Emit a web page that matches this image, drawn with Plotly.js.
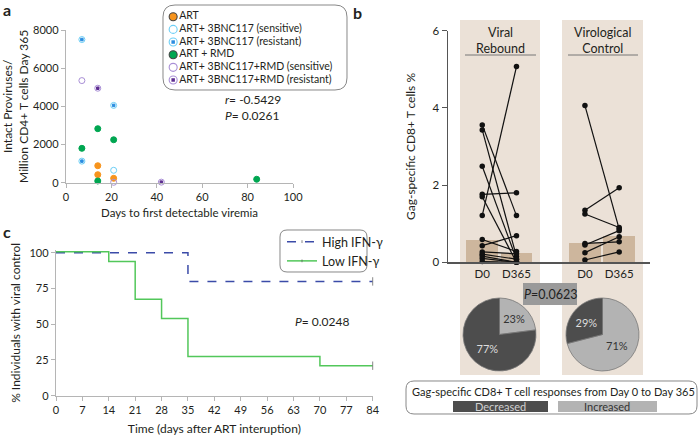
<!DOCTYPE html>
<html>
<head>
<meta charset="utf-8">
<script src="https://cdn.plot.ly/plotly-3.0.1.min.js"></script>
<style>
  html, body { margin: 0; padding: 0; background: #fff; }
  #chart { width: 699px; height: 436px; }
</style>
</head>
<body>
<div id="chart"></div>
<script>
// ---- panel a: intact proviruses vs days to viremia
var artX = [14, 14, 21];
var artY = [890, 420, 230];
var sensX = [21];
var sensY = [650];
var resX = [7, 7, 21];
var resY = [7500, 1130, 4050];
var rmdX = [7, 14, 14, 21, 84];
var rmdY = [1800, 2830, 90, 2250, 180];
var rmdSensX = [7, 21];
var rmdSensY = [5350, 20];
var rmdResX = [14, 42];
var rmdResY = [4950, 30];
var keyNames = ['ART', 'ART+ 3BNC117 (sensitive)', 'ART+ 3BNC117 (resistant)', 'ART + RMD',
                'ART+ 3BNC117+RMD (sensitive)', 'ART+ 3BNC117+RMD (resistant)'];

// ---- panel c: Kaplan-Meier style curves
var days = [0, 14, 21, 28, 35, 70, 84];
var highIfn = [100, 100, 100, 100, 80, 80, 80];
var lowIfn = [100.8, 94, 67.5, 54, 27.5, 21, 21];
var dayTicks = [0, 7, 14, 21, 28, 35, 42, 49, 56, 63, 70, 77, 84];

// ---- panel b: paired Gag-specific CD8+ responses
var rebD0   = [3.56, 3.43, 2.49, 1.76, 1.70, 1.21, 0.59, 0.43, 0.27, 0.21, 0.16, 0.10, 0.02];
var rebD365 = [1.21, 0.15, 0.08, 1.80, 0.00, 5.07, 0.28, 0.69, 0.22, 0.08, 0.00, 0.00, 0.00];
var ctlD0   = [4.06, 1.35, 1.25, 0.49, 0.45, 0.25, 0.06];
var ctlD365 = [0.86, 1.93, 0.90, 0.53, 0.82, 0.66, 0.27];
var medRebound = [0.58, 0.23];
var medControl = [0.51, 0.68];
var timeLabels = ['D0', 'D365', 'D0', 'D365'];
var pieRebound = [23, 77];   // increased, decreased
var pieControl = [71, 29];   // increased, decreased

var W = 699, H = 436;
function px(x) { return x / W; }
function py(y) { return 1 - y / H; }
function rrect(x0, y0, x1, y1, r) {
  function p(x, y) { return px(x).toFixed(5) + ',' + py(y).toFixed(5); }
  return 'M' + p(x0 + r, y0) + ' L' + p(x1 - r, y0) + ' Q' + p(x1, y0) + ' ' + p(x1, y0 + r) +
    ' L' + p(x1, y1 - r) + ' Q' + p(x1, y1) + ' ' + p(x1 - r, y1) +
    ' L' + p(x0 + r, y1) + ' Q' + p(x0, y1) + ' ' + p(x0, y1 - r) +
    ' L' + p(x0, y0 + r) + ' Q' + p(x0, y0) + ' ' + p(x0 + r, y0) + ' Z';
}
function note(text, x, y, size, color, xanchor) {
  return { text: text, x: px(x), y: py(y), xref: 'paper', yref: 'paper', showarrow: false,
    xanchor: xanchor || 'center', yanchor: 'middle', font: { size: size, color: color || '#231f20' } };
}

var orange = '#f7941d', ltBlue = '#6dcff6', blue = '#2b8de0', green = '#00a651';
var ltPurple = '#a98fd6', purple = '#5e2d91';
var dark = '#4d4d4d', light = '#b3b3b3', tan = '#cdb69d', beige = '#ebe1d7';

function pts(x, y, sym, col, size) {
  return { x: x, y: y, type: 'scatter', mode: 'markers', xaxis: 'x', yaxis: 'y',
    showlegend: false, hoverinfo: 'x+y', cliponaxis: false,
    marker: { symbol: sym, color: col, size: size || 6, line: { width: 1, color: col } } };
}

var traces = [
  pts(artX, artY, 'circle', orange),
  pts(sensX, sensY, 'circle-open', ltBlue),
  pts(resX, resY, 'circle-open', ltBlue),
  pts(resX, resY, 'square', blue, 2.5),
  pts(rmdX, rmdY, 'circle', green),
  pts(rmdSensX, rmdSensY, 'circle-open', ltPurple),
  pts(rmdResX, rmdResY, 'circle-open', ltPurple),
  pts(rmdResX, rmdResY, 'square', purple, 2.5)
];

// key for panel a, one row per group name
traces.push({
  x: keyNames.map(function () { return 0; }), y: keyNames, type: 'scatter', mode: 'markers+text',
  xaxis: 'x4', yaxis: 'y4', showlegend: false, hoverinfo: 'skip', cliponaxis: false,
  text: keyNames, textposition: 'middle right', textfont: { size: 10.5, color: '#231f20' },
  marker: { size: 8,
    symbol: ['circle', 'circle-open', 'circle-open', 'circle', 'circle-open', 'circle-open'],
    color: [orange, ltBlue, ltBlue, green, ltPurple, ltPurple], line: { width: 1.1 } }
});
traces.push({
  x: [0, 0], y: [keyNames[2], keyNames[5]], type: 'scatter', mode: 'markers',
  xaxis: 'x4', yaxis: 'y4', showlegend: false, hoverinfo: 'skip', cliponaxis: false,
  marker: { size: 3.5, symbol: 'square', color: [blue, purple] }
});

// panel c curves
function endMark(arr) { return arr.map(function (v, i) { return i === arr.length - 1 ? 6 : 0; }); }
traces.push({
  x: days, y: highIfn, name: 'High IFN-γ', type: 'scatter', mode: 'lines+markers',
  xaxis: 'x2', yaxis: 'y2', legend: 'legend2', cliponaxis: false,
  line: { shape: 'hv', color: '#3b4ba8', width: 1.5, dash: 'dash' },
  marker: { symbol: 'line-ns-open', size: endMark(days), color: '#555', line: { width: 1 } }
});
traces.push({
  x: days, y: lowIfn, name: 'Low IFN-γ', type: 'scatter', mode: 'lines+markers',
  xaxis: 'x2', yaxis: 'y2', legend: 'legend2', cliponaxis: false,
  line: { shape: 'hv', color: '#52c75a', width: 1.5 },
  marker: { symbol: 'line-ns-open', size: endMark(days), color: '#555', line: { width: 1 } }
});

// panel b median bars
traces.push({ x: [1, 2], y: medRebound, type: 'bar', width: 0.93, xaxis: 'x3', yaxis: 'y3',
  marker: { color: tan }, showlegend: false, hoverinfo: 'y' });
traces.push({ x: [4, 5], y: medControl, type: 'bar', width: 0.93, xaxis: 'x3', yaxis: 'y3',
  marker: { color: tan }, showlegend: false, hoverinfo: 'y' });

// panel b paired lines
function pairs(d0, d365, xa, xb) {
  var xs = [], ys = [];
  for (var i = 0; i < d0.length; i++) {
    xs.push(xa, xb, null);
    ys.push(d0[i], d365[i], null);
  }
  return { x: xs, y: ys, type: 'scatter', mode: 'lines+markers', xaxis: 'x3', yaxis: 'y3',
    showlegend: false, hoverinfo: 'y', cliponaxis: false,
    line: { color: '#111', width: 1.2 }, marker: { color: '#111', size: 5.5 } };
}
traces.push(pairs(rebD0, rebD365, 1, 2));
traces.push(pairs(ctlD0, ctlD365, 4, 5));

// pies (both drawn clockwise from 12 o'clock)
traces.push({
  type: 'pie', values: pieRebound, labels: ['Increased', 'Decreased'], sort: false,
  direction: 'clockwise', rotation: 0, showlegend: false, hoverinfo: 'label+value',
  domain: { x: [px(463), px(536)], y: [py(371), py(298)] },
  marker: { colors: [light, dark], line: { color: '#777', width: 0.8 } },
  texttemplate: '%{value}%', textposition: 'inside', insidetextorientation: 'horizontal',
  textfont: { size: 11, color: ['#333', '#ddd'] }
});
traces.push({
  type: 'pie', values: pieControl, labels: ['Increased', 'Decreased'], sort: false,
  direction: 'clockwise', rotation: 0, showlegend: false, hoverinfo: 'label+value',
  domain: { x: [px(566), px(639)], y: [py(371), py(298)] },
  marker: { colors: [light, dark], line: { color: '#777', width: 0.8 } },
  texttemplate: '%{value}%', textposition: 'inside', insidetextorientation: 'horizontal',
  textfont: { size: 11, color: ['#333', '#ddd'] }
});

var axA = { showgrid: false, zeroline: false, showline: true, linecolor: '#b5b5b5', linewidth: 1.2,
  ticks: 'outside', ticklen: 4, tickcolor: '#b5b5b5', tickfont: { size: 11 } };
function ax(extra) { return Object.assign({}, axA, extra); }

var layout = {
  width: W, height: H, margin: { l: 0, r: 0, t: 0, b: 0 },
  paper_bgcolor: '#fff', plot_bgcolor: 'rgba(0,0,0,0)',
  font: { family: 'Lato, sans-serif', size: 11, color: '#231f20' },
  bargap: 0,
  xaxis: ax({ domain: [px(66), px(293)], range: [0, 100], tickvals: [0, 20, 40, 60, 80, 100],
    anchor: 'y', title: { text: 'Days to first detectable viremia', font: { size: 11.5 }, standoff: 6 } }),
  yaxis: ax({ domain: [py(182.7), py(30)], range: [0, 8000], tickvals: [0, 2000, 4000, 6000, 8000],
    anchor: 'x', title: { text: 'Intact Proviruses/<br>Million CD4+ T cells Day 365', font: { size: 12 }, standoff: 6 } }),
  xaxis2: ax({ domain: [px(56), px(372.7)], range: [0, 84], tickvals: dayTicks, anchor: 'y2',
    title: { text: 'Time (days after ART interuption)', font: { size: 12 }, standoff: 10 } }),
  yaxis2: ax({ domain: [py(395.7), py(250)], range: [0, 102], tickvals: [0, 25, 50, 75, 100], anchor: 'x2',
    title: { text: '% Individuals with viral control', font: { size: 12 }, standoff: 6 } }),
  xaxis3: ax({ domain: [px(448), px(650)], range: [0, 5.9], tickvals: [1, 2, 4, 5], ticktext: timeLabels,
    ticks: '', linecolor: '#555', linewidth: 1.5, anchor: 'y3', tickfont: { size: 11.5 } }),
  yaxis3: ax({ domain: [py(262.3), py(30.7)], range: [0, 6], tickvals: [0, 2, 4, 6], anchor: 'x3',
    linecolor: '#555', tickcolor: '#555', linewidth: 1.5, ticklen: 5, tickfont: { size: 11.5 },
    title: { text: 'Gag-specific CD8+ T cells %', font: { size: 12 }, standoff: 14 } }),
  xaxis4: { domain: [px(168), px(345)], range: [-0.03, 1], visible: false, fixedrange: true },
  yaxis4: { domain: [py(86.3), py(10.4)], type: 'category', range: [5.5, -0.5], visible: false, fixedrange: true, anchor: 'x4' },
  showlegend: true,
  legend2: { x: px(282), y: py(227), xanchor: 'left', yanchor: 'top', bgcolor: 'rgba(0,0,0,0)',
    borderwidth: 0, font: { size: 12.5 }, tracegroupgap: 0 },
  shapes: [
    { type: 'rect', xref: 'paper', yref: 'paper', x0: px(460), x1: px(540), y0: py(375), y1: py(20),
      fillcolor: beige, line: { width: 0 }, layer: 'below' },
    { type: 'rect', xref: 'paper', yref: 'paper', x0: px(562), x1: px(643), y0: py(375), y1: py(20),
      fillcolor: beige, line: { width: 0 }, layer: 'below' },
    { type: 'line', xref: 'paper', yref: 'paper', x0: px(465), x1: px(536), y0: py(55), y1: py(55),
      line: { color: '#777', width: 1 } },
    { type: 'line', xref: 'paper', yref: 'paper', x0: px(568), x1: px(638), y0: py(55), y1: py(55),
      line: { color: '#777', width: 1 } },
    { type: 'rect', xref: 'paper', yref: 'paper', x0: px(523), x1: px(577), y0: py(305), y1: py(283),
      fillcolor: '#9a9a9a', line: { width: 0 } },
    { type: 'path', xref: 'paper', yref: 'paper', path: rrect(406, 381, 697, 414, 8),
      fillcolor: '#fff', line: { color: '#888', width: 1 } },
    { type: 'rect', xref: 'paper', yref: 'paper', x0: px(453), x1: px(548), y0: py(412), y1: py(401),
      fillcolor: dark, line: { width: 0 } },
    { type: 'rect', xref: 'paper', yref: 'paper', x0: px(558), x1: px(657), y0: py(412), y1: py(401),
      fillcolor: light, line: { width: 0 } },
    { type: 'path', xref: 'paper', yref: 'paper', path: rrect(163, 5, 347, 90, 12),
      fillcolor: 'rgba(0,0,0,0)', line: { color: '#888', width: 1 }, layer: 'below' },
    { type: 'path', xref: 'paper', yref: 'paper', path: rrect(280, 230, 367, 272, 7),
      fillcolor: 'rgba(0,0,0,0)', line: { color: '#888', width: 1 }, layer: 'below' }
  ],
  annotations: [
    note('<b>a</b>', 7, 9, 16),
    note('<b>b</b>', 357, 13, 16),
    note('<b>c</b>', 7, 231, 16),
    note('<i>r</i>= -0.5429', 223, 99, 12, null, 'left'),
    note('<i>P</i>= 0.0261', 223, 116, 12, null, 'left'),
    note('<i>P</i>= 0.0248', 322, 321, 12),
    note('Viral<br>Rebound', 500, 40, 12.5),
    note('Virological<br>Control', 603, 40, 12.5),
    note('<i>P</i>=0.0623', 550, 294, 12.5, '#222'),
    note('Gag-specific CD8+ T cell responses from Day 0 to Day 365', 553, 391, 11),
    note('Decreased', 500, 406.5, 11, '#d0d0d0'),
    note('Increased', 607, 406.5, 11, '#333')
  ]
};

Plotly.newPlot('chart', traces, layout, { displayModeBar: false, staticPlot: true });
</script>
</body>
</html>
